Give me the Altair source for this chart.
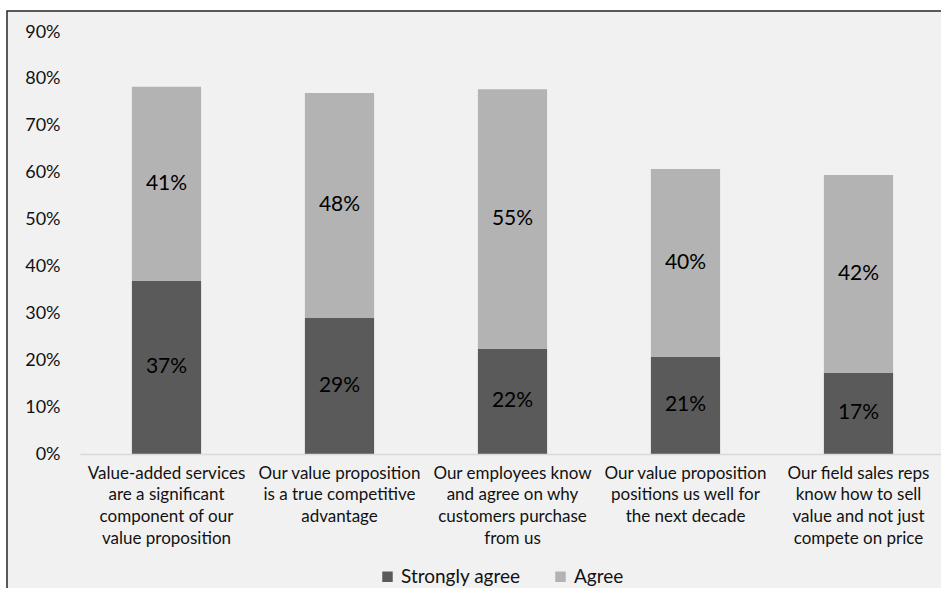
import altair as alt
import pandas as pd

categories = [
    "Value-added services\nare a significant\ncomponent of our\nvalue proposition",
    "Our value proposition\nis a true competitive\nadvantage",
    "Our employees know\nand agree on why\ncustomers purchase\nfrom us",
    "Our value proposition\npositions us well  for\nthe next decade",
    "Our field sales reps\nknow how to sell\nvalue and not just\ncompete on price",
]
series = ["Strongly agree", "Agree"]
strongly_agree = [0.369, 0.290, 0.224, 0.207, 0.173]
agree = [0.414, 0.480, 0.554, 0.401, 0.422]
y_ticks = [0, 0.1, 0.2, 0.3, 0.4, 0.5, 0.6, 0.7, 0.8, 0.9]
colors = ["#5a5a5a", "#b3b3b3"]

rows = []
for i, c in enumerate(categories):
    rows.append({"category": c, "series": series[0], "value": strongly_agree[i], "order": 0})
    rows.append({"category": c, "series": series[1], "value": agree[i], "order": 1})
df = pd.DataFrame(rows)

FONT = "Lato"

xenc = alt.X(
    "category:N",
    sort=categories,
    scale=alt.Scale(range=[0, 865], paddingInner=0.6, paddingOuter=0.3),
    axis=alt.Axis(
        title=None,
        labelAngle=0,
        labelExpr="split(datum.label, '\\n')",
        labelFont=FONT,
        labelFontSize=17,
        labelLineHeight=21.7,
        labelColor="#111111",
        labelPadding=11,
        labelLimit=0,
        ticks=False,
        domainColor="#d9d9d9",
        domainWidth=1.5,
        labelBaseline="top",
        zindex=1,
    ),
)

bars = alt.Chart(df).mark_bar().encode(
    x=xenc,
    y=alt.Y(
        "value:Q",
        stack="zero",
        scale=alt.Scale(domain=[0, 0.9], nice=False),
        axis=alt.Axis(
            title=None,
            values=y_ticks,
            format=".0%",
            grid=False,
            domain=False,
            ticks=False,
            labelFont=FONT,
            labelFontSize=18,
            labelColor="#111111",
            labelPadding=20,
            zindex=1,
        ),
    ),
    color=alt.Color(
        "series:N",
        scale=alt.Scale(domain=series, range=colors),
        legend=alt.Legend(
            title=None,
            orient="none",
            direction="horizontal",
            legendX=298,
            legendY=535,
            symbolType="square",
            symbolSize=110,
            symbolStrokeWidth=0,
            labelFont=FONT,
            labelFontSize=19,
            labelColor="#111111",
            columnPadding=30,
            labelOffset=4,
            zindex=1,
        ),
    ),
    order=alt.Order("order:Q"),
)

labels = alt.Chart(df).transform_stack(
    stack="value", as_=["v0", "v1"], groupby=["category"], sort=[alt.SortField("order")]
).transform_calculate(
    mid="(datum.v0 + datum.v1) / 2"
).mark_text(font=FONT, fontSize=21, color="#000000", baseline="middle").encode(
    x=alt.X("category:N", sort=categories),
    y=alt.Y("mid:Q"),
    text=alt.Text("value:Q", format=".0%"),
)

frame = alt.Chart(alt.Data(values=[{}])).mark_rect(
    fill="#f1f1f1", stroke="#262626", strokeWidth=1.5
).encode(
    x=alt.value(-73), x2=alt.value(1000), y=alt.value(-21), y2=alt.value(700)
)

chart = alt.layer(frame, bars, labels).properties(
    width=861,
    height=422,
    autosize=alt.AutoSizeParams(type="none"),
    padding={"left": 80, "top": 32, "right": 0, "bottom": 134},
    background="white",
).configure_view(stroke=None)

chart.save("out.html", embed_options={"renderer": "svg", "actions": False})
